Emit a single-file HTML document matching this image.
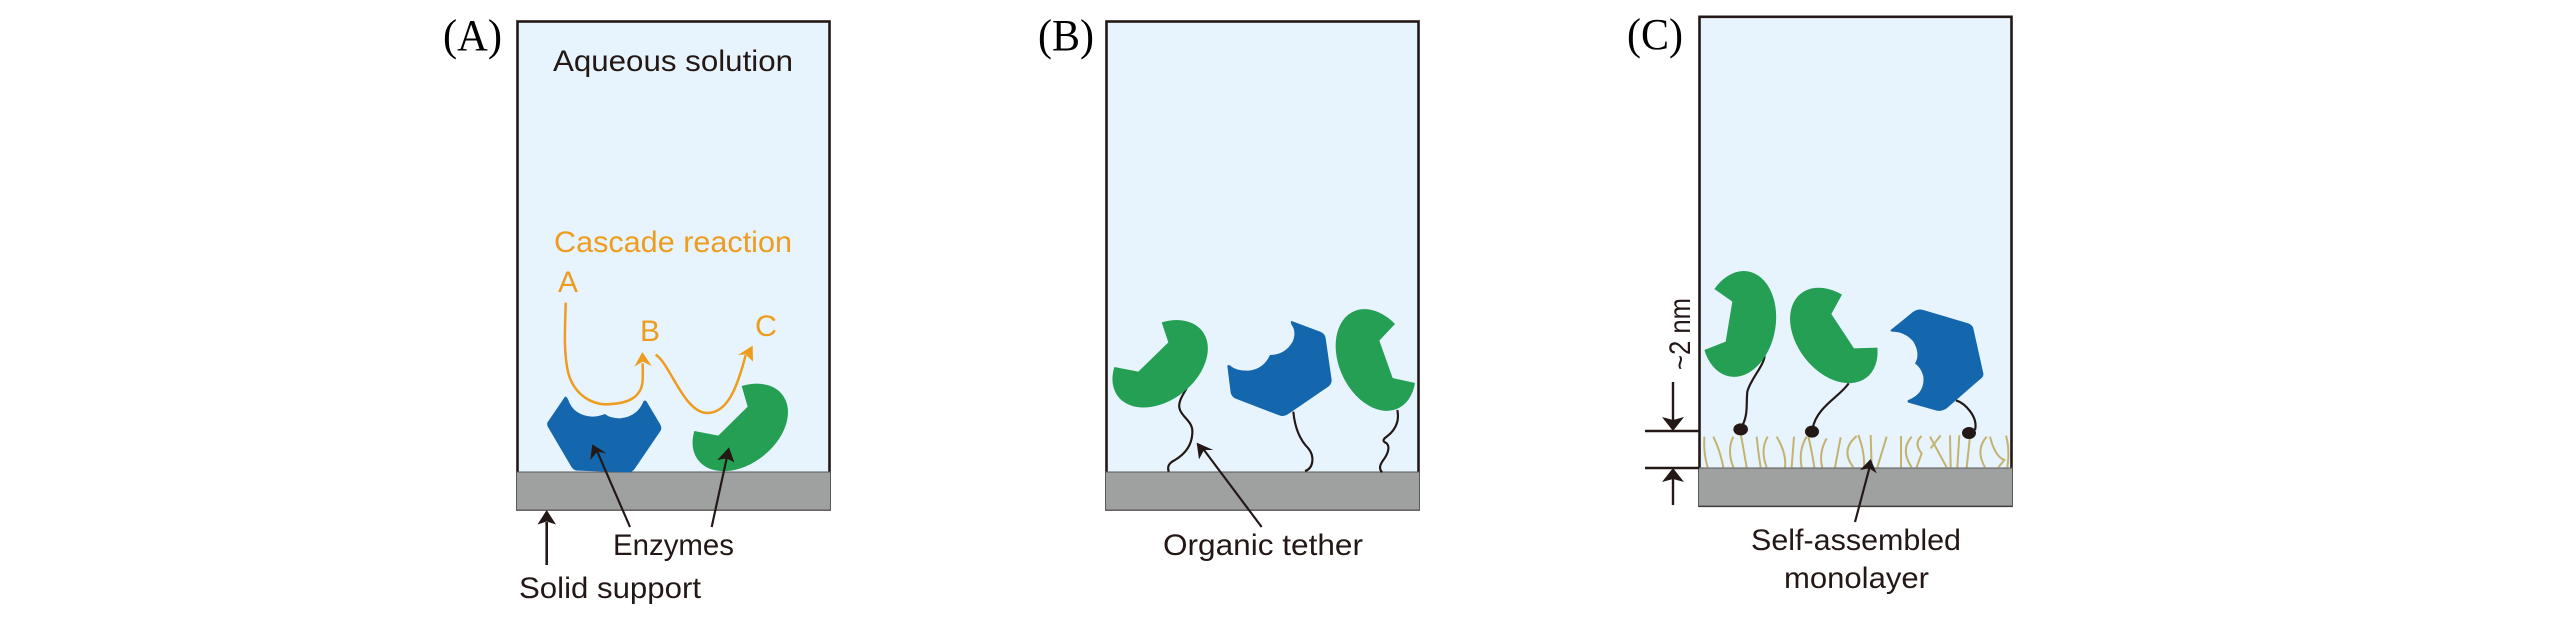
<!DOCTYPE html>
<html><head><meta charset="utf-8"><style>
html,body{margin:0;padding:0;background:#fff}
svg{display:block}
text{font-family:"Liberation Sans",sans-serif;fill:#231815;font-size:30px}
.s{font-family:"Liberation Serif",serif;font-size:44px;fill:#000}
.o{fill:#ee9c1e}
.sam path{fill:none;stroke:#c4b26f;stroke-width:6}
.t{fill:none;stroke:#231815;stroke-width:6.5}
</style></head><body>
<svg width="2567" height="618" viewBox="0 0 2567 618" xmlns="http://www.w3.org/2000/svg">
<rect width="2567" height="618" fill="#fff"/>

<!-- Panel A -->
<rect x="517.5" y="21.5" width="312" height="488" fill="#e7f4fd" stroke="#231815" stroke-width="2.6"/>
<rect x="516.5" y="472" width="314" height="38" fill="#9fa0a0" stroke="#595757" stroke-width="1"/>
<text class="s" x="443" y="50" textLength="59" lengthAdjust="spacingAndGlyphs">(A)</text>
<text x="553" y="71" textLength="240" lengthAdjust="spacingAndGlyphs">Aqueous solution</text>
<text class="o" x="554" y="252" textLength="238" lengthAdjust="spacingAndGlyphs">Cascade reaction</text>
<text class="o" x="558" y="292" textLength="20" lengthAdjust="spacingAndGlyphs">A</text>
<text class="o" x="640" y="341" textLength="20" lengthAdjust="spacingAndGlyphs">B</text>
<text class="o" x="755" y="336" textLength="22" lengthAdjust="spacingAndGlyphs">C</text>
<text x="613" y="555" textLength="121" lengthAdjust="spacingAndGlyphs">Enzymes</text>
<text x="519" y="598" textLength="182" lengthAdjust="spacingAndGlyphs">Solid support</text>
<g transform="translate(520,260) scale(.33333)">
  <path fill="#1467ac" d="M135,410 L82,488 Q80,495 85,503 L155,622 Q162,632 175,632 L325,637 Q335,637 343,628 L420,515 Q428,505 420,492 L380,425 Q375,418 370,425 Q352,470 300,475 Q270,475 255,462 Q235,470 215,470 Q160,465 145,420 Q140,408 135,410 Z"/>
  <path fill="#259f54" d="M665,378 A160 110 -38 1 1 523,513 L595,527 L683,440 Z"/>
  <path fill="none" stroke="#ee9c1e" stroke-width="7.5" d="M137,128 C137,180 128,270 145,340 C165,410 220,432 255,433 C300,432 340,425 358,395 C372,375 368,340 368,310"/>
  <path fill="#ee9c1e" d="M367,276 L343,320 L368,305 L395,318 Z"/>
  <path fill="none" stroke="#ee9c1e" stroke-width="7.5" d="M407,284 C450,310 490,455 560,459 C620,460 650,390 677,285"/>
  <path fill="#ee9c1e" d="M698,257 L654,285 L677,283 L699,305 Z"/>
  <path class="t" d="M330,801 L232,575"/>
  <path fill="#231815" d="M217,553 L211,600 L232,575 L260,580 Z"/>
  <path class="t" d="M575,801 L620,595"/>
  <path fill="#231815" d="M627,562 L592,600 L620,595 L643,607 Z"/>
</g>
<path d="M546.7 565V522" stroke="#231815" stroke-width="2.6" fill="none"/>
<path fill="#231815" d="M546.7 510L537.5 524.5L546.7 521.5L556 524.5Z"/>

<!-- Panel B -->
<rect x="1106.5" y="21.5" width="312" height="488" fill="#e7f4fd" stroke="#231815" stroke-width="2.6"/>
<rect x="1105.5" y="472" width="314" height="38" fill="#9fa0a0" stroke="#595757" stroke-width="1"/>
<text class="s" x="1038" y="50" textLength="56" lengthAdjust="spacingAndGlyphs">(B)</text>
<text x="1163" y="555" textLength="200" lengthAdjust="spacingAndGlyphs">Organic tether</text>
<g transform="translate(1100,290) scale(.33333)">
  <path class="t" d="M260,295 C245,320 232,340 240,360 C250,385 280,395 277,430 C275,470 250,495 225,510 C205,520 202,530 206,545"/>
  <path class="t" d="M580,365 C585,420 605,455 625,475 C645,500 640,535 615,543"/>
  <path class="t" d="M892,360 C900,400 880,425 860,440 C845,450 850,455 860,460 C870,470 865,490 850,510 C835,530 840,540 846,547"/>
  <path fill="#259f54" d="M185,97 A160 110 -38 1 1 43,231 L115,245 L205,157 Z"/>
  <path fill="#1467ac" d="M575,93 L660,125 Q675,130 677,145 L695,270 Q695,282 685,290 L565,372 Q552,380 540,377 L405,325 Q395,320 392,308 L382,228 Q385,222 392,228 Q410,243 445,242 Q490,238 510,195 Q555,195 578,155 Q590,125 575,105 Q570,93 575,93 Z"/>
  <path fill="#259f54" d="M885,102 A160 110 65.5 1 0 945,279 L878,264 L838,152 Z"/>
  <path class="t" d="M485,711 L312,480"/>
  <path fill="#231815" d="M290,458 L297,508 L312,480 L340,480 Z"/>
</g>

<!-- Panel C -->
<rect x="1699.5" y="16.8" width="312" height="489" fill="#e7f4fd" stroke="#231815" stroke-width="2.6"/>
<rect x="1698.5" y="468" width="314" height="38" fill="#9fa0a0" stroke="#595757" stroke-width="1"/>
<text class="s" x="1627" y="49" textLength="56" lengthAdjust="spacingAndGlyphs">(C)</text>
<text x="1751" y="550" textLength="210" lengthAdjust="spacingAndGlyphs">Self-assembled</text>
<text x="1784" y="588" textLength="145" lengthAdjust="spacingAndGlyphs">monolayer</text>
<text transform="translate(1690,370) rotate(-90)" x="0" y="0" textLength="72" lengthAdjust="spacingAndGlyphs">~2 nm</text>
<path d="M1645 431H1699M1645 468H1699" stroke="#231815" stroke-width="2.4" fill="none"/>
<path d="M1673 382V422M1673 505V478" stroke="#231815" stroke-width="2.4" fill="none"/>
<path fill="#231815" d="M1673 431L1662 417L1673 420L1684 417ZM1673 468L1662 482L1673 479L1684 482Z"/>
<g transform="translate(1670,260) scale(.33333)">
  <g class="sam">
    <path d="M103,530 Q100,580 113,622"/><path d="M130,530 Q150,570 160,622"/>
    <path d="M190,530 Q170,570 190,622"/><path d="M213,525 L230,622"/>
    <path d="M260,530 Q265,580 272,622"/><path d="M293,530 Q270,570 290,622"/>
    <path d="M320,530 Q350,580 345,622"/><path d="M372,530 L365,622"/>
    <path d="M410,530 Q385,570 395,622"/><path d="M415,530 Q425,570 433,622"/>
    <path d="M470,535 Q445,580 457,622"/><path d="M512,532 L495,622"/>
    <path d="M560,528 Q510,570 550,622"/><path d="M565,525 Q585,580 582,622"/>
    <path d="M602,525 L605,622"/><path d="M650,530 L622,622"/>
    <path d="M693,528 L693,622"/><path d="M725,530 Q690,570 725,622"/>
    <path d="M755,528 Q730,550 755,580 L740,622"/><path d="M780,530 L830,622"/>
    <path d="M812,526 L782,565"/><path d="M840,526 L842,622"/>
    <path d="M868,526 L862,622"/><path d="M900,530 L890,622"/>
    <path d="M950,530 Q915,570 945,622"/><path d="M960,530 Q975,590 1003,600 L985,622"/>
    <path d="M1008,527 Q1020,570 1012,622"/>
  </g>
  <path class="t" d="M284,288 C280,320 240,360 232,395 C228,430 235,460 218,495"/>
  <path class="t" d="M536,370 C510,410 440,440 428,505"/>
  <path class="t" d="M858,421 C885,430 925,470 915,510"/>
  <ellipse cx="212" cy="508" rx="22" ry="18" fill="#231815"/>
  <ellipse cx="426" cy="515" rx="21" ry="18" fill="#231815"/>
  <ellipse cx="897" cy="519" rx="21" ry="18" fill="#231815"/>
  <path fill="#259f54" d="M133,87 A160 110 -80 1 1 103,270 L167,245 L187,125 Z"/>
  <path fill="#259f54" d="M516,104 A160 110 52 1 0 622,263 L552,265 L484,162 Z"/>
  <path fill="#1467ac" d="M662,210 L730,155 Q745,145 760,150 L895,190 Q907,195 910,205 L940,340 Q942,350 930,358 L830,445 Q815,455 800,452 L715,428 Q710,423 715,420 Q765,400 760,350 Q755,325 735,310 Q752,282 730,245 Q705,215 665,215 Q660,213 662,210 Z"/>
  <path class="t" d="M555,786 L598,625"/>
  <path fill="#231815" d="M602,597 L570,630 L598,625 L620,640 Z"/>
</g>
</svg>
</body></html>
